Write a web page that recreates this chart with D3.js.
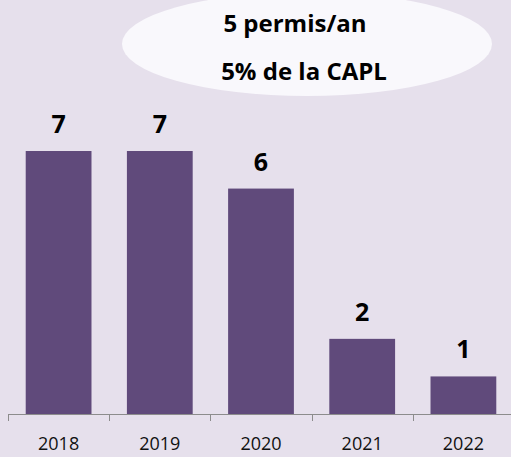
<!DOCTYPE html>
<html>
<head>
<meta charset="utf-8">
<script src="https://cdn.jsdelivr.net/npm/d3@7"></script>
<style>
  body { margin: 0; background: #e6e0ec; }
  svg { display: block; }
</style>
</head>
<body>
<svg id="chart" width="511" height="457"></svg>
<script>
var years = ["2018", "2019", "2020", "2021", "2022"];
var permits = [7, 7, 6, 2, 1];
var bubbleLines = ["5 permis/an", "5% de la CAPL"];

var svg = d3.select("#chart");
var width = +svg.attr("width"),
    height = +svg.attr("height");

svg.append("rect")
  .attr("width", width)
  .attr("height", height)
  .attr("fill", "#e6e0ec");

// x band runs past the right edge, like the original
var x = d3.scaleBand()
  .domain(years)
  .range([8, 514])
  .paddingInner(0.35)
  .paddingOuter(0.175);

var y = d3.scaleLinear()
  .domain([0, 7])
  .range([414, 151]);

var data = years.map(function(d, i) { return {year: d, value: permits[i]}; });

// bubble
svg.append("ellipse")
  .attr("cx", 307)
  .attr("cy", 44)
  .attr("rx", 185)
  .attr("ry", 52)
  .attr("fill", "#f9f8fc");

svg.selectAll(".bubble-text")
  .data(bubbleLines)
  .enter().append("text")
  .attr("class", "bubble-text")
  .attr("x", function(d, i) { return i === 0 ? 295 : 304; })
  .attr("y", function(d, i) { return i === 0 ? 32 : 80; })
  .attr("text-anchor", "middle")
  .attr("font-family", "'Open Sans', sans-serif")
  .attr("font-weight", "bold")
  .attr("font-size", "24px")
  .attr("fill", "#000")
  .text(function(d) { return d; });

// bars
svg.selectAll(".bar")
  .data(data)
  .enter().append("rect")
  .attr("class", "bar")
  .attr("x", function(d) { return x(d.year); })
  .attr("y", function(d) { return y(d.value); })
  .attr("width", x.bandwidth())
  .attr("height", function(d) { return y(0) - y(d.value); })
  .attr("fill", "#604a7b");

svg.selectAll(".val")
  .data(data)
  .enter().append("text")
  .attr("class", "val")
  .attr("x", function(d) { return x(d.year) + x.bandwidth() / 2; })
  .attr("y", function(d) { return y(d.value) - 18; })
  .attr("text-anchor", "middle")
  .attr("font-family", "'Open Sans', sans-serif")
  .attr("font-weight", "bold")
  .attr("font-size", "25px")
  .attr("fill", "#000")
  .text(function(d) { return d.value; });

// axis
var gx = svg.append("g")
  .attr("transform", "translate(0," + y(0) + ")");

gx.append("line")
  .attr("x1", 8).attr("x2", width)
  .attr("y1", 0.5).attr("y2", 0.5)
  .attr("stroke", "#8c8c8c");

var step = x.step();
gx.selectAll(".tick-mark")
  .data(d3.range(years.length + 1))
  .enter().append("line")
  .attr("class", "tick-mark")
  .attr("x1", function(i) { return Math.round(8 + i * step) + 0.5; })
  .attr("x2", function(i) { return Math.round(8 + i * step) + 0.5; })
  .attr("y1", 0).attr("y2", 7)
  .attr("stroke", "#8c8c8c");

gx.selectAll(".year")
  .data(years)
  .enter().append("text")
  .attr("class", "year")
  .attr("x", function(d) { return x(d) + x.bandwidth() / 2; })
  .attr("y", 36)
  .attr("text-anchor", "middle")
  .attr("font-family", "'Open Sans', sans-serif")
  .attr("font-size", "18px")
  .attr("fill", "#111")
  .text(function(d) { return d; });
</script>
</body>
</html>
